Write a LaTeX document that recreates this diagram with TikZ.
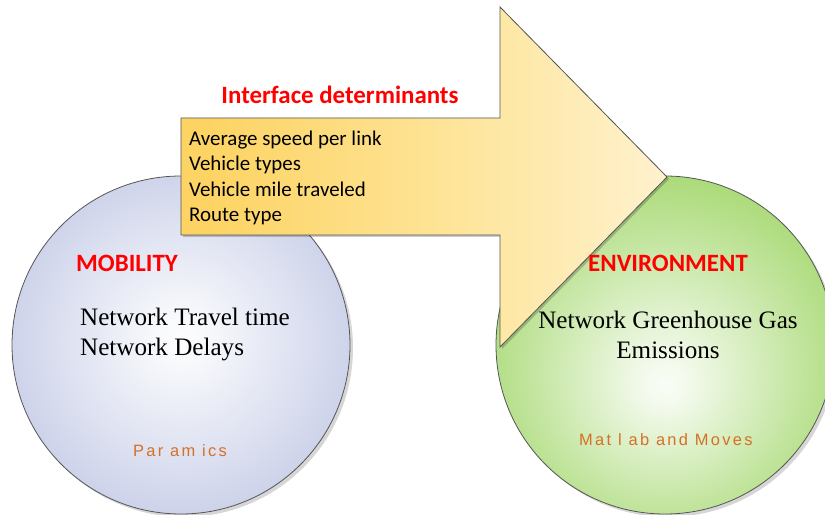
\documentclass[tikz,border=0pt]{standalone}
\usepackage{fontspec}
\setmainfont{Liberation Serif}
\newfontfamily\calib{Carlito}
\newfontfamily\toolfont[LetterSpace=14]{Liberation Sans}
\definecolor{labelred}{RGB}{255,0,0}
\definecolor{toolorange}{RGB}{214,112,38}
\definecolor{mobedge}{RGB}{184,192,225}
\definecolor{envedge}{RGB}{144,207,78}
\definecolor{outline}{RGB}{85,85,85}
\definecolor{arrowL}{RGB}{253,220,125}
\definecolor{arrowA}{RGB}{253,212,100}
\definecolor{arrowB}{RGB}{254,230,158}
\definecolor{arrowC}{RGB}{255,244,218}
\pgfdeclareradialshading{mobshade}{\pgfpoint{0bp}{1bp}}{%
  color(0bp)=(white!96!mobedge); color(3bp)=(white!92!mobedge); color(26bp)=(mobedge!72!white); color(38bp)=(mobedge); color(60bp)=(mobedge)}
\pgfdeclareradialshading{envshade}{\pgfpoint{0bp}{-6bp}}{%
  color(0bp)=(white!95!envedge); color(3bp)=(white!90!envedge); color(24bp)=(envedge!65!white); color(38bp)=(envedge); color(60bp)=(envedge)}
\pgfdeclarehorizontalshading{flowshade}{100bp}{%
  color(0bp)=(arrowL); color(8bp)=(arrowA); color(28bp)=(arrowA); color(55bp)=(arrowB); color(80bp)=(arrowC); color(100bp)=(white)}
\tikzset{
  circleshadow/.style={fill=black, opacity=0.16},
  outlined/.style={draw=outline, line width=0.8bp},
  heading/.style={font=\calib\bfseries\fontsize{25}{29}\selectfont, text=labelred, inner sep=0pt},
  serifbody/.style={font=\fontsize{25.2}{30}\selectfont, inner sep=0pt},
  toollabel/.style={font=\toolfont\fontsize{16.5}{18}\selectfont, text=toolorange, inner sep=0pt}
}
\begin{document}
\begin{tikzpicture}[x=1bp,y=-1bp]
\useasboundingbox (0,0) rectangle (825,515);
\clip (0,0) rectangle (825,515);
% circle shadows
\fill[circleshadow] (184,348) circle (169);
\fill[circleshadow] (668,348) circle (169);
% mobility circle
\path[outlined, shading=mobshade] (181,345) circle (169);
\coordinate (mobc) at (181,345);
% environment circle
\path[outlined, shading=envshade] (665,345) circle (169);
\coordinate (envc) at (665,345);
% flow arrow shadow and arrow
\fill[black, opacity=0.2] (183,120) -- (502,120) -- (502,9) -- (669,179) -- (502,349) -- (502,237) -- (183,237) -- cycle;
\path[outlined, shading=flowshade] (181,118) -- (500,118) -- (500,7) -- (667,177) -- (500,347) -- (500,235) -- (181,235) -- cycle;
% texts (base anchor of a multi-line node sits on its last line)
\node[font=\calib\bfseries\fontsize{25}{29}\selectfont, text=labelred, inner sep=0pt] (iface) at (340,95) {Interface determinants};
\node[font=\calib\fontsize{21}{25.5}\selectfont, align=left, anchor=base west, inner sep=0pt] (dets) at (189,221.5)
  {Average speed per link\\Vehicle types\\Vehicle mile traveled\\Route type};
\node[heading, anchor=base west] (mob) at (76,272) {MOBILITY};
\node[heading, anchor=base west] (env) at (588,272) {ENVIRONMENT};
\node[serifbody, align=left, anchor=base west] (mobtxt) at (80,355) {Network Travel time\\Network Delays};
\node[serifbody, align=center, anchor=base] (envtxt) at (668,358) {Network Greenhouse Gas\\Emissions};
\node[toollabel, anchor=base west] (mobtool) at (133,456) {Par am ics};
\node[toollabel, anchor=base west] (envtool) at (579,445) {Mat l ab and Moves};
\end{tikzpicture}
\end{document}
